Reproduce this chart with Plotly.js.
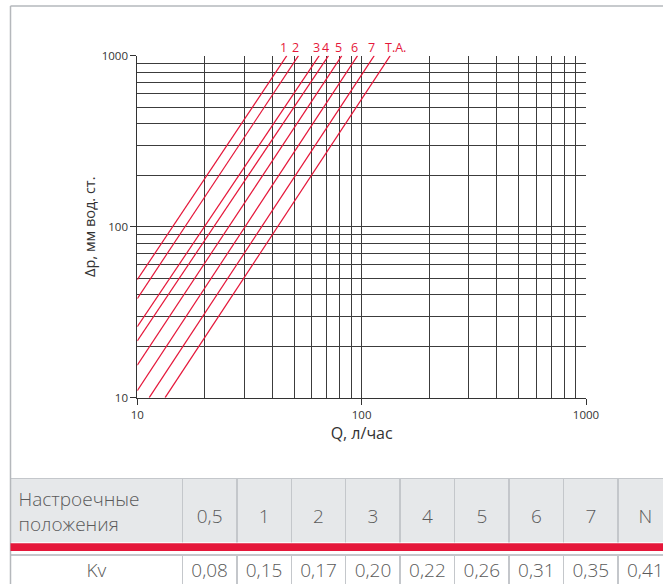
<!DOCTYPE html>
<html>
<head>
<meta charset="utf-8">
<script src="https://cdn.plot.ly/plotly-3.0.1.min.js"></script>
<style>
html, body { margin:0; padding:0; overflow:hidden; background:#fff; }
#chart { width:680px; height:600px; }
</style>
</head>
<body>
<div id="chart"></div>
<script>
// ---- data ----
const lineNames = ['1', '2', '3', '4', '5', '6', '7', 'T.A.'];
// lower end of each curve (Q л/час, Δp мм вод. ст.)
const qLow  = [10, 10, 10, 10, 10, 10, 11.3, 13.3];
const dpLow = [49, 38, 26, 21.5, 15.5, 11, 10, 10];
// upper end of each curve
const qHigh  = [46.4, 52.3, 64.7, 71.2, 81.6, 95.9, 113.8, 134.1];
const dpHigh = [1000, 1000, 1000, 1000, 1000, 1000, 1000, 1000];

const axisTicks = [10, 100, 1000];
const axisTickText = ['10', '100', '1000'];
const minorGrid = [20, 30, 40, 50, 60, 70, 80, 90, 200, 300, 400, 500, 600, 700, 800, 900];

const settingsTitle = 'Настроечные<br>положения';
const settings = ['0,5', '1', '2', '3', '4', '5', '6', '7', 'N'];
const kvTitle = 'Kv';
const kvValues = ['0,08', '0,15', '0,17', '0,20', '0,22', '0,26', '0,31', '0,35', '0,41'];

// ---- styling / layout ----
const W = 680, H = 600;
const fx = x => x / W;
const fy = y => 1 - y / H;
const RED = '#e5173a';
const GRID = '#3c3c3c';
const TXT = '#5a5a5a';
const BORDER = '#c4c7cb';
const TFONT = { family: 'Open Sans, sans-serif', size: 19, color: TXT, weight: 300 };

const traces = lineNames.map((n, i) => ({
  type: 'scatter', mode: 'lines', name: n,
  x: [qLow[i], qHigh[i]], y: [dpLow[i], dpHigh[i]],
  line: { color: RED, width: 1.2 },
  hoverinfo: 'skip', showlegend: false,
  xaxis: 'x', yaxis: 'y'
}));

const colWidths = [172].concat(settings.map(() => 54.5));
const tableDomX = [fx(10.5), fx(673)];

traces.push({
  type: 'table',
  domain: { x: tableDomX, y: [fy(543.3), fy(478.3)] },
  columnwidth: colWidths,
  header: {
    values: [settingsTitle].concat(settings.map(s => '<span style="font-size:11px"> </span><br>' + s)),
    align: ['left'].concat(settings.map(() => 'center')),
    height: 65,
    fill: { color: '#e6e8ea' },
    line: { color: BORDER, width: 1.5 },
    font: TFONT
  },
  cells: { values: [] }
});
traces.push({
  type: 'table',
  domain: { x: tableDomX, y: [0, fy(555)] },
  columnwidth: colWidths,
  header: {
    values: [kvTitle].concat(kvValues),
    align: 'center',
    height: 40,
    fill: { color: '#ffffff' },
    line: { color: BORDER, width: 1.5 },
    font: TFONT
  },
  cells: { values: [] }
});

const annotations = lineNames.map((n, i) => ({
  x: Math.log10(qHigh[i]), y: Math.log10(dpHigh[i]), xref: 'x', yref: 'y',
  text: n, showarrow: false, xanchor: n.length > 1 ? 'left' : 'center', yanchor: 'bottom',
  xshift: n.length > 1 ? -7 : -3, yshift: -2,
  font: { family: 'Open Sans, sans-serif', size: 12.5, color: RED }
}));

const axisCommon = {
  type: 'log',
  tickmode: 'array', tickvals: axisTicks, ticktext: axisTickText,
  ticks: 'outside', ticklen: 6, tickwidth: 1, tickcolor: '#333',
  showgrid: true, gridcolor: GRID, gridwidth: 1,
  showline: true, linecolor: '#333', linewidth: 1,
  zeroline: false,
  tickfont: { family: 'Open Sans, sans-serif', size: 11.5, color: '#333' },
  minor: { tickmode: 'array', tickvals: minorGrid, showgrid: true, gridcolor: GRID, gridwidth: 1, ticks: '' },
  fixedrange: true
};

const layout = {
  width: W, height: H,
  margin: { l: 0, r: 0, t: 0, b: 0 },
  paper_bgcolor: '#fff', plot_bgcolor: '#fff',
  showlegend: false,
  xaxis: Object.assign({}, axisCommon, {
    domain: [fx(137.3), fx(586)], range: [1, 3],
    title: { text: 'Q, л/час', standoff: 7, font: { family: 'Open Sans, sans-serif', size: 16, color: '#333' } }
  }),
  yaxis: Object.assign({}, axisCommon, {
    domain: [fy(397.7), fy(55.7)], range: [1, 3],
    title: { text: 'Δp, мм вод. ст.', standoff: 2, font: { family: 'Open Sans, sans-serif', size: 14.5, color: '#333' } }
  }),
  annotations: annotations,
  shapes: [
    { type: 'line', xref: 'paper', yref: 'paper', x0: fx(10.5), x1: 1, y0: fy(6), y1: fy(6), line: { color: '#b5b8bc', width: 1.5 } },
    { type: 'line', xref: 'paper', yref: 'paper', x0: fx(10.5), x1: fx(10.5), y0: fy(6), y1: 0, line: { color: '#b5b8bc', width: 1.5 } },
    { type: 'rect', xref: 'paper', yref: 'paper', x0: fx(10.5), x1: 1, y0: fy(551), y1: fy(543.3), fillcolor: RED, line: { width: 0 } }
  ]
};

Plotly.newPlot('chart', traces, layout, { staticPlot: true, displayModeBar: false });
</script>
</body>
</html>
